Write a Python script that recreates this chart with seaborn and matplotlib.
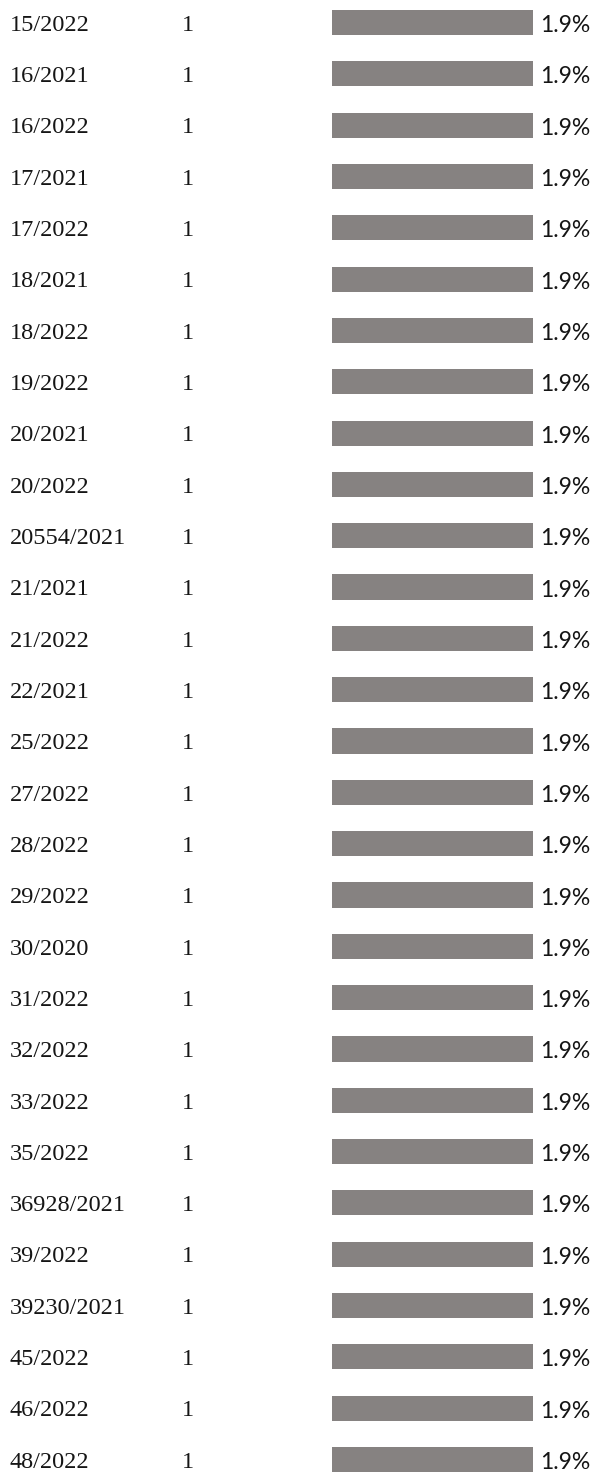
import matplotlib
matplotlib.use("Agg")
import matplotlib.pyplot as plt
import seaborn as sns
import pandas as pd

sns.set_theme(style="white")

# data
labels = ['15/2022', '16/2021', '16/2022', '17/2021', '17/2022', '18/2021', '18/2022',
          '19/2022', '20/2021', '20/2022', '20554/2021', '21/2021', '21/2022', '22/2021',
          '25/2022', '27/2022', '28/2022', '29/2022', '30/2020', '31/2022', '32/2022',
          '33/2022', '35/2022', '36928/2021', '39/2022', '39230/2021', '45/2022',
          '46/2022', '48/2022']
counts = [1] * len(labels)
percents = [1.9] * len(labels)

df = pd.DataFrame({'Label': labels, 'Count': counts, 'Percent': percents})

fig = plt.figure(figsize=(5.95, 14.74), dpi=100)
ax = fig.add_axes([0, 0, 1, 1])

sns.barplot(data=df, y='Label', x='Percent', color='#868281', width=0.49,
            saturation=1, linewidth=0, ax=ax, orient='h')

# layout: bar from x=332px to 533px, row spacing ~51.3px
px_per_unit = 201 / 1.9
ax.set_xlim(-332 / px_per_unit, (595 - 332) / px_per_unit)
ax.set_ylim(28 + 14.5 / 51.3, -22.5 / 51.3)
ax.axis('off')

txt = '#151515'
for i, row in df.iterrows():
    ax.annotate(row['Label'], xy=(10 / 595, i), xycoords=('axes fraction', 'data'),
                xytext=(0, -2), textcoords='offset points', va='center', ha='left',
                family='Liberation Serif', fontsize=17.5, color=txt)
    ax.annotate(str(row['Count']), xy=(182 / 595, i), xycoords=('axes fraction', 'data'),
                xytext=(0, -2), textcoords='offset points', va='center', ha='left',
                family='Liberation Serif', fontsize=17.5, color=txt)
    ax.annotate(f"{row['Percent']:.1f}%", xy=(row['Percent'], i),
                xytext=(5, -2.2), textcoords='offset points', va='center', ha='left',
                family='Lato', fontsize=16.5, color=txt)

fig.savefig('out.png', dpi=100)
plt.close(fig)
